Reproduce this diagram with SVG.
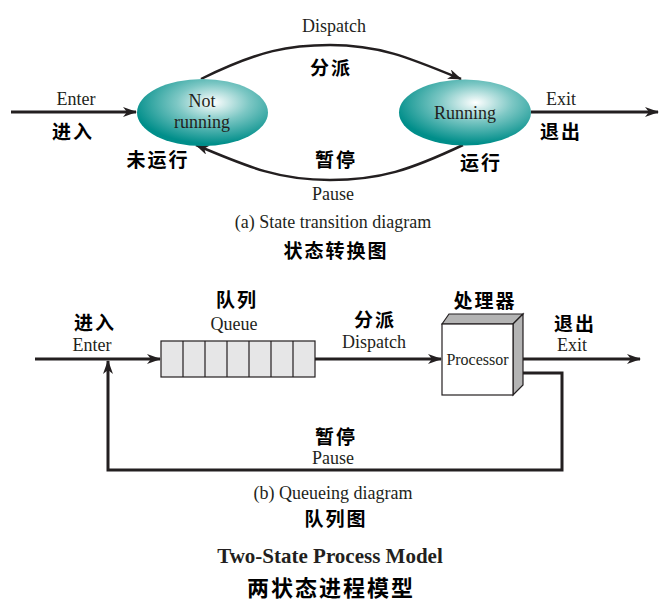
<svg xmlns="http://www.w3.org/2000/svg" width="671" height="607" viewBox="0 0 671 607">
<defs>
<radialGradient id="g" cx="0.58" cy="0.35" r="0.62">
<stop offset="0" stop-color="#ffffff"/>
<stop offset="0.45" stop-color="#7cc7c4"/>
<stop offset="1" stop-color="#008e8a"/>
</radialGradient>
<marker id="a" markerWidth="14" markerHeight="10" refX="13" refY="5" orient="auto" markerUnits="userSpaceOnUse">
<path d="M0,0 L14,5 L0,10 L4,5 Z" fill="#231f20"/>
</marker>
<style>
.en{font-family:"Liberation Serif",serif;font-size:18px;fill:#231f20;text-anchor:middle}
.zh{font-family:"Noto Sans CJK SC",sans-serif;font-size:19px;font-weight:bold;fill:#000;text-anchor:middle;letter-spacing:2px}
.ln{fill:none;stroke:#231f20;stroke-width:3}
.cv{fill:none;stroke:#231f20;stroke-width:2.5}
</style>
</defs>
<rect width="671" height="607" fill="#fff"/>

<g id="connectors">
<path class="ln" d="M11,112 H136" marker-end="url(#a)"/>
<path class="ln" d="M531,112 H658" marker-end="url(#a)"/>
<path class="cv" d="M201,79 C260,50 290,45 330,45 C380,45 410,58 461,79" marker-end="url(#a)"/>
<path class="cv" d="M463,145 C410,170 380,180 330,180 C280,180 250,168 196,145" marker-end="url(#a)"/>
<path class="ln" d="M35,359 H160" marker-end="url(#a)"/>
<path class="ln" d="M315,359 H441" marker-end="url(#a)"/>
<path class="ln" d="M517,359 H640" marker-end="url(#a)"/>
<path class="ln" d="M517,373 H562 V470 H108 V361" marker-end="url(#a)"/>
</g>

<g id="not-running">
<ellipse cx="202.5" cy="112.5" rx="65.5" ry="33.5" fill="url(#g)"/>
<text class="en" x="202" y="107">Not</text>
<text class="en" x="202" y="128">running</text>
</g>
<g id="running">
<ellipse cx="465" cy="112.5" rx="66" ry="33" fill="url(#g)"/>
<text class="en" x="465" y="119">Running</text>
</g>

<g id="labels-a">
<text class="en" x="334" y="32">Dispatch</text>
<text class="zh" x="331" y="75">分派</text>
<text class="zh" x="336" y="167">暂停</text>
<text class="en" x="333" y="200">Pause</text>
<text class="en" x="76" y="105">Enter</text>
<text class="zh" x="73" y="139">进入</text>
<text class="zh" x="158" y="167">未运行</text>
<text class="zh" x="481" y="170">运行</text>
<text class="en" x="561" y="105">Exit</text>
<text class="zh" x="561" y="139">退出</text>
<text class="en" x="333" y="228">(a) State transition diagram</text>
<text class="zh" x="336" y="258">状态转换图</text>
</g>

<g id="queue">
<rect x="161" y="341" width="154" height="36" fill="#e6e6e7" stroke="#231f20" stroke-width="1.2"/>
<path d="M183,341 V377 M205,341 V377 M227,341 V377 M249,341 V377 M271,341 V377 M293,341 V377" stroke="#231f20" stroke-width="1.2"/>
</g>

<g id="processor">
<path d="M442,324 L449,314 H523 L513,324 Z" fill="#b4b4b4" stroke="#231f20" stroke-width="1.2"/>
<path d="M513,324 L523,314 V385 L513,395 Z" fill="#b4b4b4" stroke="#231f20" stroke-width="1.2"/>
<rect x="442" y="324" width="71" height="71" fill="#fff" stroke="#231f20" stroke-width="1.2"/>
<text class="en" x="477.5" y="365" style="font-size:16px">Processor</text>
</g>

<g id="labels-b">
<text class="zh" x="95" y="330">进入</text>
<text class="en" x="92" y="351">Enter</text>
<text class="zh" x="237" y="307">队列</text>
<text class="en" x="234" y="330">Queue</text>
<text class="zh" x="375" y="327">分派</text>
<text class="en" x="374" y="348">Dispatch</text>
<text class="zh" x="485" y="308">处理器</text>
<text class="zh" x="575" y="331">退出</text>
<text class="en" x="572" y="351">Exit</text>
<text class="zh" x="336" y="444">暂停</text>
<text class="en" x="333" y="464">Pause</text>
<text class="en" x="333" y="499">(b) Queueing diagram</text>
<text class="zh" x="336" y="526">队列图</text>
<text class="en" x="330" y="563" style="font-size:21px;font-weight:bold">Two-State Process Model</text>
<text class="zh" x="331" y="596" style="font-size:22px">两状态进程模型</text>
</g>
</svg>
